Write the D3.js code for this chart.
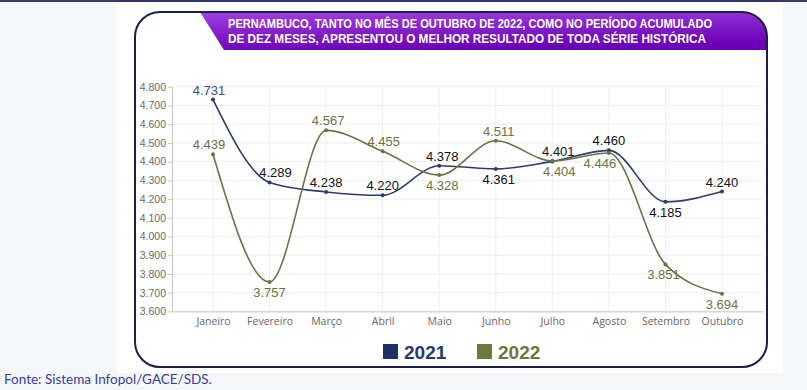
<!DOCTYPE html>
<html>
<head>
    <style>
        body { margin: 0; background: #f5f6f8; }
        svg { display: block; }
        .ylab text { font: 10.5px "Liberation Sans", Arial, sans-serif; fill: #6a6a6a; }
        .xlab text { font: 10.5px "Open Sans", sans-serif; fill: #666; }
        .val { font: 13px "Liberation Sans", Arial, sans-serif; text-anchor: middle; }
        .title { font: bold 12.5px "Liberation Sans Narrow", "Arial Narrow", "Liberation Sans", sans-serif; fill: #fff; }
        .leg { font: bold 19px "Liberation Sans", Arial, sans-serif; }
        .fonte { font: 13.5px Lato, "Open Sans", sans-serif; fill: #3a3d99; }
    </style>
    <script src="https://cdnjs.cloudflare.com/ajax/libs/d3/7.8.5/d3.min.js"></script>
</head>
<body>
<script>
    var months = ["Janeiro", "Fevereiro", "Março", "Abril", "Maio", "Junho", "Julho", "Agosto", "Setembro", "Outubro"];
    var v2021 = [4731, 4289, 4238, 4220, 4378, 4361, 4401, 4460, 4185, 4240];
    var v2022 = [4439, 3757, 4567, 4455, 4328, 4511, 4404, 4446, 3851, 3694];
    var yTicks = d3.range(3600, 4801, 100);
    var seriesNames = ["2021", "2022"];
    var titleLines = ["PERNAMBUCO, TANTO NO MÊS DE OUTUBRO DE 2022, COMO NO PERÍODO ACUMULADO",
                      "DE DEZ MESES, APRESENTOU O MELHOR RESULTADO DE TODA SÉRIE HISTÓRICA"];

    // label placement (a = above, b = below) and small horizontal nudges
    var place2021 = ["a", "a", "a", "a", "a", "b", "a", "a", "b", "a"];
    var place2022 = ["a", "b", "a", "a", "b", "a", "b", "b", "b", "b"];
    var nudge2021 = [-4, 6, 0, 0, 3, 3, 6, 0, 0, 0];
    var nudge2022 = [-4, 0, 2, 1, 3, 3, 7, -9, -2, 0];

    var W = 807, H = 390;
    var col21 = "#2b3c70", col22 = "#6c7343";

    var ptBr = d3.formatLocale({decimal: ",", thousands: ".", grouping: [3], currency: ["R$", ""]});
    var fmt = ptBr.format(",.0f");

    var svg = d3.select("body").append("svg").attr("width", W).attr("height", H);

    // page pieces
    svg.append("rect").attr("x", 117).attr("y", 2).attr("width", 666).attr("height", 371).attr("fill", "#fff");
    svg.append("rect").attr("x", 0).attr("y", 0).attr("width", W).attr("height", 2).attr("fill", "#35386e");

    // card
    var card = {x: 135, y: 12, w: 632, h: 355, r: 25};
    var defs = svg.append("defs");
    defs.append("clipPath").attr("id", "cardclip").append("rect")
        .attr("x", card.x).attr("y", card.y).attr("width", card.w).attr("height", card.h)
        .attr("rx", card.r);
    var grad = defs.append("linearGradient").attr("id", "ban")
        .attr("x1", "0").attr("y1", "0").attr("x2", "0.3").attr("y2", "1");
    grad.append("stop").attr("offset", "0").attr("stop-color", "#a040e2");
    grad.append("stop").attr("offset", "1").attr("stop-color", "#6c02b6");

    svg.append("path")
        .attr("clip-path", "url(#cardclip)")
        .attr("d", `M200,${card.y} L${card.x + card.w},${card.y} L${card.x + card.w},50 L224,50 Z`)
        .attr("fill", "url(#ban)");

    svg.append("rect")
        .attr("x", card.x).attr("y", card.y).attr("width", card.w).attr("height", card.h)
        .attr("rx", card.r).attr("fill", "none").attr("stroke", "#1c1e48").attr("stroke-width", 2);

    svg.selectAll(".title").data(titleLines).enter().append("text")
        .attr("class", "title")
        .attr("x", 228)
        .attr("y", function(d, i) { return 27.7 + i * 15.6; })
        .attr("textLength", function(d, i) { return i == 0 ? 484 : 478; })
        .attr("lengthAdjust", "spacingAndGlyphs")
        .text(function(d) { return d; });

    // scales
    var x = d3.scalePoint().domain(months).range([172, 763]).padding(0.725);
    var y = d3.scaleLinear().domain([3600, 4800]).range([311.4, 86.7]);

    // grid
    var grid = svg.append("g");
    grid.selectAll(".hg").data(yTicks).enter().append("line")
        .attr("x1", 172).attr("x2", 763)
        .attr("y1", function(d) { return y(d); }).attr("y2", function(d) { return y(d); })
        .attr("stroke", "#ededed");
    grid.selectAll(".vg").data(months).enter().append("line")
        .attr("x1", function(d) { return x(d); }).attr("x2", function(d) { return x(d); })
        .attr("y1", y(4800)).attr("y2", y(3600))
        .attr("stroke", "#ededed");

    // axes
    var yAxis = svg.append("g").attr("class", "ylab")
        .attr("transform", "translate(172,0)")
        .call(d3.axisLeft(y).tickValues(yTicks).tickSize(4).tickSizeOuter(0).tickPadding(2).tickFormat(fmt));
    yAxis.selectAll("line, path").attr("stroke", "#c8c8c8");

    var xAxis = svg.append("g").attr("class", "xlab")
        .attr("transform", "translate(0," + y(3600) + ")")
        .call(d3.axisBottom(x).tickSize(0).tickPadding(6));
    xAxis.select(".domain").attr("stroke", "#c8c8c8");

    // lines
    var line = d3.line()
        .x(function(d, i) { return x(months[i]); })
        .y(function(d) { return y(d); })
        .curve(d3.curveMonotoneX);

    function drawSeries(vals, color, place, nudge, labelColor) {
        var g = svg.append("g");
        g.append("path").attr("d", line(vals)).attr("fill", "none")
            .attr("stroke", color).attr("stroke-width", 1.6);
        g.selectAll("circle").data(vals).enter().append("circle")
            .attr("cx", function(d, i) { return x(months[i]); })
            .attr("cy", function(d) { return y(d); })
            .attr("r", 2).attr("fill", color);
        g.selectAll("text").data(vals).enter().append("text")
            .attr("class", "val")
            .attr("x", function(d, i) { return x(months[i]) + nudge[i]; })
            .attr("y", function(d, i) { return y(d) + (place[i] == "a" ? -5 : 15); })
            .attr("fill", function(d, i) { return labelColor(i); })
            .text(function(d) { return fmt(d); });
    }

    drawSeries(v2021, col21, place2021, nudge2021, function(i) { return i == 0 ? "#3d4c72" : "#111"; });
    drawSeries(v2022, col22, place2022, nudge2022, function() { return "#6c7343"; });

    // legend
    var legX = [383, 477], legCol = ["#1e3167", "#6b7a3d"], legTxt = ["#243a6e", "#6b7540"];
    var leg = svg.selectAll(".legi").data(seriesNames).enter().append("g");
    leg.append("rect")
        .attr("x", function(d, i) { return legX[i]; }).attr("y", 344)
        .attr("width", 15).attr("height", 15)
        .attr("fill", function(d, i) { return legCol[i]; });
    leg.append("text").attr("class", "leg")
        .attr("x", function(d, i) { return legX[i] + 21; }).attr("y", 358.5)
        .attr("fill", function(d, i) { return legTxt[i]; })
        .text(function(d) { return d; });

    svg.append("text").attr("class", "fonte").attr("x", 4).attr("y", 384)
        .text("Fonte: Sistema Infopol/GACE/SDS.");
</script>
</body>
</html>
